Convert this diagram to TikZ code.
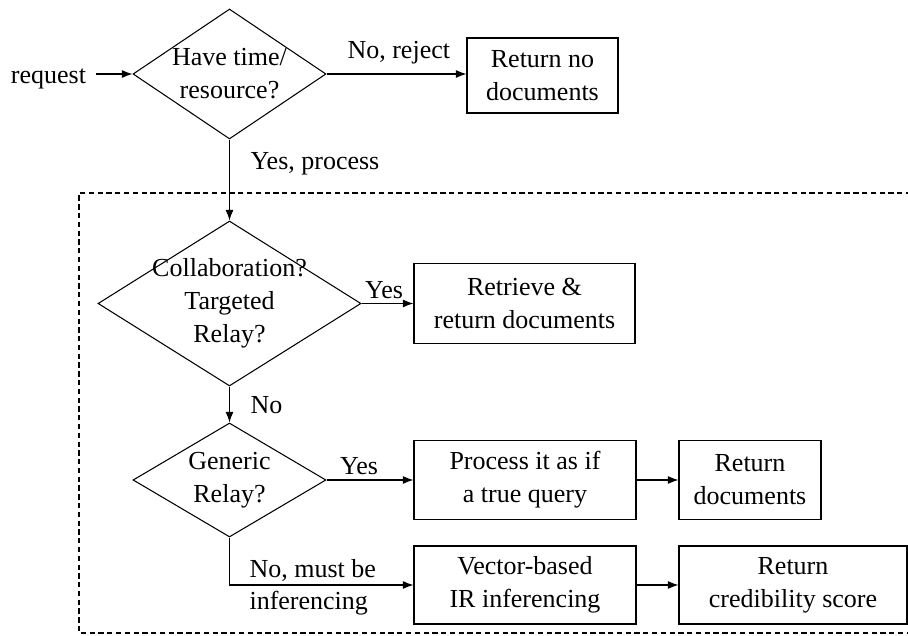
\documentclass[tikz,border=0pt]{standalone}
\usepackage{fontspec}
\setmainfont{Liberation Serif}
\usepackage{tikz}
\usetikzlibrary{shapes.geometric,arrows.meta}

\tikzset{
  decision/.style={draw, diamond, inner sep=0pt, line width=0.6pt},
  block/.style={draw, rectangle, line width=0.6pt, minimum height=1.58cm, align=center},
  lbl/.style={inner sep=0pt, align=center},
  frame/.style={line width=0.6pt, dash pattern=on 3pt off 2pt}
}

\begin{document}
\begin{tikzpicture}[>={Latex[length=6pt,width=4.5pt]}, line width=0.6pt, font=\fontsize{14.8}{18.8}\selectfont]
        \useasboundingbox (0,0) rectangle (18.16,12.7);

        % Entry
        \node[lbl] (req) at (0.97,11.12) {request};
        \node[decision, minimum width=3.86cm, minimum height=2.6cm] (have) at (4.59,11.22) {};
        \node[lbl] (have-txt) at (have) {Have time/\\resource?};
        \node[block, minimum width=3.02cm, minimum height=1.5cm] (nodocs) at (10.85,11.19) {Return no\\documents};
        \draw[->] ([xshift=0.18cm]req.east |- have.west) -- (have.west);
        \draw[->] (have.east) -- (nodocs.west |- have.east);
        \node[lbl, anchor=south west] (reject) at (6.94,11.4) {No, reject};
        \node[lbl, anchor=west] (process) at (5.0,9.42) {Yes, process};

        % Dashed frame
        \draw[frame] (18.4,8.84) -- (1.58,8.84) -- (1.58,0.04) -- (18.4,0.04);

        % Targeted relay
        \node[decision, minimum width=5.26cm, minimum height=3.3cm] (collab) at (4.59,6.63) {};
        \node[lbl] (collab-txt) at (collab) {Collaboration?\\Targeted\\Relay?};
        \node[block, minimum width=4.42cm, minimum height=1.6cm] (retrieve) at (10.49,6.63) {Retrieve \&\\return documents};
        \draw[->] (have.south) -- (collab.north);
        \draw[->] (collab.east) -- (retrieve.west);
        \node[lbl, anchor=south] (yes1) at (7.68,6.72) {Yes};

        % Generic relay
        \node[decision, minimum width=3.86cm, minimum height=2.28cm] (generic) at (4.59,3.1) {};
        \node[lbl] (generic-txt) at (generic) {Generic\\Relay?};
        \draw[->] (collab.south) -- (generic.north);
        \node[lbl, anchor=west] (no1) at (5.0,4.6) {No};

        \node[block, minimum width=4.44cm] (query) at (10.5,3.1) {Process it as if\\a true query};
        \node[block, minimum width=2.84cm] (docs) at (15.0,3.1) {Return\\documents};
        \draw[->] (generic.east) -- (query.west);
        \draw[->] (query.east) -- (docs.west);
        \node[lbl, anchor=south] (yes2) at (7.18,3.2) {Yes};

        % Inferencing
        \node[block, minimum width=4.44cm, minimum height=1.56cm] (vector) at (10.5,1.0) {Vector-based\\IR inferencing};
        \node[block, minimum width=4.56cm, minimum height=1.56cm] (score) at (15.86,1.0) {Return\\credibility score};
        \draw[->] (generic.south) |- (vector.west);
        \draw[->] (vector.east) -- (score.west);
        \node[lbl, anchor=west] (must) at (4.98,1.3) {No, must be};
        \node[lbl, anchor=west] (infer) at (4.98,0.64) {inferencing};
\end{tikzpicture}
\end{document}
